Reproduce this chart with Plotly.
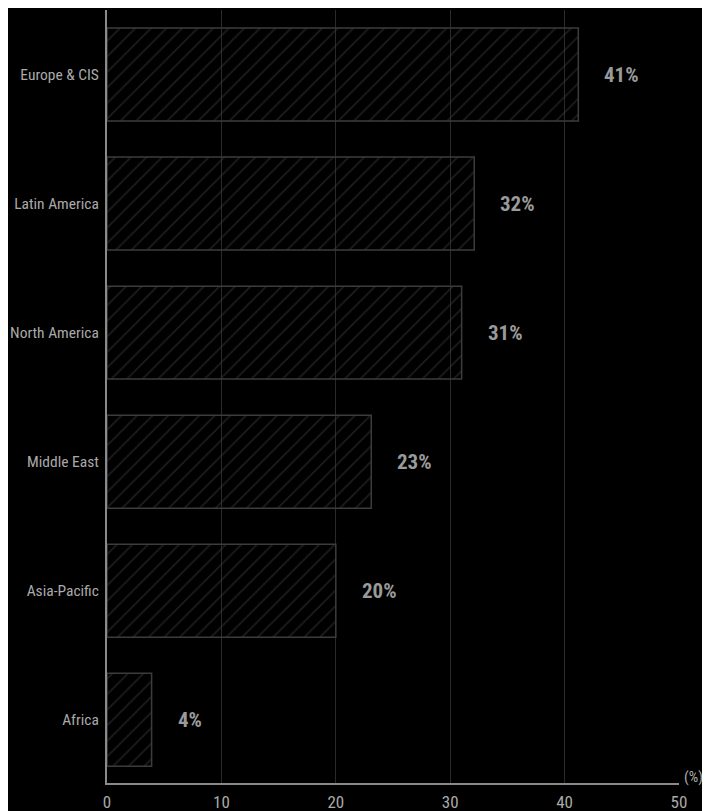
import plotly.graph_objects as go

regions = ["Africa", "Asia-Pacific", "Middle East", "North America", "Latin America", "Europe & CIS"]
values = [3.9, 20.0, 23.1, 31.0, 32.1, 41.2]
labels = ["4%", "20%", "23%", "31%", "32%", "41%"]
x_ticks = [0, 10, 20, 30, 40, 50]

FONT = "Liberation Sans Narrow, Roboto Condensed, Roboto, sans-serif"

fig = go.Figure()
fig.add_trace(go.Bar(
    y=regions, x=values, orientation="h",
    marker=dict(
        color="rgba(0,0,0,0)",
        line=dict(color="#3c3c3c", width=1.5),
        pattern=dict(shape="/", fgcolor="#3a3a3a", bgcolor="rgba(0,0,0,0)", size=11, solidity=0.15),
    ),
    width=0.72,
    hoverinfo="skip",
))

for r, v, t in zip(regions, values, labels):
    fig.add_annotation(x=v, y=r, text="<b>" + t + "</b>", showarrow=False,
                       xanchor="left", xshift=24,
                       font=dict(family=FONT, size=21, color="#9a9a9a"))

fig.add_annotation(x=1, y=0, xref="paper", yref="paper", text="(%)", showarrow=False,
                   xanchor="left", yanchor="middle", xshift=3, yshift=6,
                   font=dict(family=FONT, size=15, color="#aaaaaa"))

fig.update_layout(
    width=702, height=803,
    paper_bgcolor="black", plot_bgcolor="black",
    margin=dict(l=99, r=31, t=2, b=28, autoexpand=False),
    showlegend=False,
    xaxis=dict(range=[0, 50], tickvals=x_ticks, showgrid=True, gridcolor="#2a2a2a", gridwidth=1,
               zeroline=False, showline=True, linecolor="#8a8a8a", linewidth=2,
               tickfont=dict(family=FONT, size=17, color="#aaaaaa"), ticks="", ticklen=0,
               ticklabelstandoff=3, automargin=False),
    yaxis=dict(categoryorder="array", categoryarray=regions, range=[-0.49, 5.5],
               showgrid=False, zeroline=False, showline=True, linecolor="#8a8a8a", linewidth=2,
               tickfont=dict(family=FONT, size=15.5, color="#aaaaaa"), ticks="", ticklen=0,
               ticklabelstandoff=3, automargin=False),
)

fig.write_html("out.html")
